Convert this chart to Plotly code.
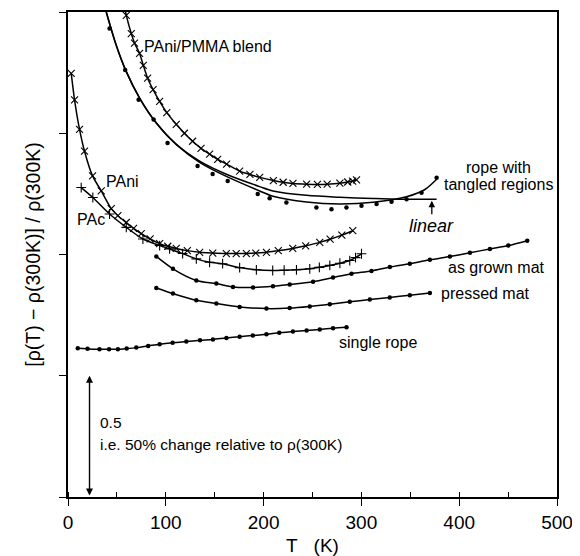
import plotly.graph_objects as go

# temperatures in K, values are the offset normalised resistance

# PAni/PMMA blend (crosses)
blend_T = [57.0, 59.6, 64.7, 68.0, 73.2, 77.0, 81.4, 87.0, 93.7, 101.0, 110.7, 119.0, 127.4,
           136.0, 144.8, 153.0, 162.2, 175.5, 186.0, 196.0, 210.0, 220.0, 230.0, 244.0,
           255.0, 265.0, 278.0, 286.0, 291.0, 295.0]
blend_v = [2.04, 1.986, 1.911, 1.872, 1.829, 1.780, 1.727, 1.680, 1.631, 1.585, 1.537, 1.500, 1.467,
           1.438, 1.414, 1.392, 1.373, 1.344, 1.330, 1.318, 1.305, 1.298, 1.293, 1.290,
           1.289, 1.290, 1.294, 1.299, 1.303, 1.308]

# rope with tangled regions (dots)
tangled_T = [42.5, 58.5, 72.2, 87.5, 101.8, 132.5, 147.9, 163.3, 194.0, 206.2, 223.3, 254.0,
             269.4, 284.7, 300.1, 315.5, 330.8, 346.2, 361.5, 376.9]
tangled_v = [1.932, 1.761, 1.638, 1.557, 1.460, 1.365, 1.332, 1.303, 1.250, 1.232, 1.214, 1.194,
             1.187, 1.194, 1.201, 1.208, 1.218, 1.228, 1.255, 1.317]
# fit through the tangled rope data
tangled_fit_T = [39.1, 49.3, 59.6, 73.2, 90.3, 110.7, 134.6, 161.9, 196.0, 209.6, 243.8, 277.9,
                 312.0, 346.0, 365.0, 377.0]
tangled_fit_v = [2.0, 1.863, 1.754, 1.645, 1.542, 1.454, 1.380, 1.322, 1.262, 1.240, 1.216, 1.208,
                 1.215, 1.238, 1.268, 1.310]
# "linear" fit
linear_T = [39.1, 49.3, 59.6, 73.2, 90.3, 110.7, 134.6, 161.9, 196.0, 209.6, 243.8, 277.9,
            312.0, 339.3, 376.9]
linear_v = [2.0, 1.863, 1.754, 1.645, 1.542, 1.454, 1.385, 1.331, 1.280, 1.262, 1.244, 1.236,
            1.231, 1.228, 1.228]

# PAni (crosses)
pani_T = [3.3, 6.7, 11.8, 16.9, 25.1, 34.0, 44.2, 51.0, 59.6, 67.0, 74.9, 84.0, 93.7, 102.0,
          110.7, 122.0, 134.6, 148.0, 161.9, 172.0, 182.4, 192.0, 202.9, 215.0, 229.8, 243.0,
          257.4, 268.0, 280.0, 291.2]
pani_v = [1.747, 1.638, 1.516, 1.426, 1.324, 1.262, 1.189, 1.160, 1.132, 1.108, 1.086, 1.064,
          1.045, 1.034, 1.025, 1.016, 1.009, 1.006, 1.004, 1.004, 1.004, 1.006, 1.009, 1.016,
          1.025, 1.036, 1.050, 1.063, 1.080, 1.098]

# PAc (plus signs)
pac_T = [13.5, 25.4, 42.5, 59.6, 76.6, 93.7, 103.9, 117.2, 131.2, 144.8, 158.1, 175.5, 192.6,
         209.3, 221.0, 233.6, 247.2, 257.0, 267.7, 278.0, 288.1, 294.0, 300.1]
pac_v = [1.276, 1.235, 1.167, 1.112, 1.064, 1.037, 1.023, 1.004, 0.982, 0.968, 0.962, 0.946, 0.937,
         0.934, 0.935, 0.937, 0.941, 0.947, 0.955, 0.964, 0.975, 0.987, 1.003]

# as grown mat (dots)
grown_T = [90.3, 107.3, 131.2, 151.7, 168.7, 189.2, 209.6, 226.7, 250.6, 271.0, 289.9, 310.3,
           329.1, 349.5, 370.0, 390.5, 411.0, 431.4, 450.2, 469.6]
grown_v = [0.992, 0.941, 0.893, 0.880, 0.866, 0.864, 0.869, 0.876, 0.888, 0.905, 0.921, 0.932,
           0.948, 0.962, 0.978, 0.992, 1.007, 1.023, 1.037, 1.057]

# pressed mat (dots)
pressed_T = [90.3, 107.3, 131.2, 151.7, 175.5, 202.9, 226.7, 247.2, 267.7, 288.1, 308.6, 329.0,
             349.5, 370.0]
pressed_v = [0.862, 0.839, 0.811, 0.798, 0.784, 0.777, 0.779, 0.786, 0.795, 0.805, 0.814, 0.823,
             0.832, 0.841]

# single rope (dots)
single_T = [10.0, 20.0, 32.2, 42.0, 51.0, 60.0, 69.8, 82.0, 93.7, 107.0, 121.0, 135.0, 148.2,
            162.0, 175.5, 189.0, 202.9, 216.0, 230.0, 244.0, 257.4, 271.0, 284.8]
single_v = [0.613, 0.611, 0.609, 0.609, 0.609, 0.612, 0.616, 0.623, 0.630, 0.636, 0.641, 0.646,
            0.650, 0.656, 0.661, 0.666, 0.671, 0.677, 0.682, 0.687, 0.691, 0.696, 0.700]

FONT = "Liberation Sans, Arial, sans-serif"

fig = go.Figure()


def add_curve(T, v, symbol=None, size=4):
    if symbol is None:
        fig.add_trace(go.Scatter(x=T, y=v, mode="lines",
                                 line=dict(color="black", width=1.5, shape="spline", smoothing=0.8)))
        return
    lw = 0 if symbol == "circle" else 1.1
    fig.add_trace(go.Scatter(x=T, y=v, mode="lines+markers",
                             line=dict(color="black", width=1.5, shape="spline", smoothing=0.8),
                             marker=dict(symbol=symbol, size=size, color="black",
                                         line=dict(color="black", width=lw))))


add_curve(blend_T, blend_v, "x-thin", 7)
add_curve(tangled_fit_T, tangled_fit_v)
add_curve(linear_T, linear_v)
fig.add_trace(go.Scatter(x=tangled_T, y=tangled_v, mode="markers",
                         marker=dict(symbol="circle", size=4.5, color="black")))
add_curve(pani_T, pani_v, "x-thin", 7)
add_curve(pac_T, pac_v, "cross-thin", 7)
add_curve(grown_T, grown_v, "circle", 4.5)
add_curve(pressed_T, pressed_v, "circle", 4.5)
add_curve(single_T, single_v, "circle", 4.5)

labels = [
    (76, 1.857, "PAni/PMMA blend", "left"),
    (37, 1.299, "PAni", "left"),
    (7.5, 1.143, "PAc", "left"),
    (440.6, 1.358, "rope with", "center"),
    (440.6, 1.290, "tangled regions", "center"),
    (387, 0.947, "as grown mat", "left"),
    (379, 0.840, "pressed mat", "left"),
    (275, 0.639, "single rope", "left"),
]
for x, y, txt, anc in labels:
    fig.add_annotation(x=x, y=y, text=txt, showarrow=False, xanchor=anc,
                       font=dict(family=FONT, size=16, color="black"))

fig.add_annotation(x=372, y=1.226, ax=0, ay=26, text="<i>linear</i>", showarrow=True,
                   arrowhead=2, arrowsize=1, arrowwidth=1.3, arrowcolor="black", standoff=1,
                   font=dict(family=FONT, size=18, color="black"))

# 0.5 scale bar
fig.add_annotation(x=22, y=0.5, ax=22, ay=0.0, axref="x", ayref="y", text="", showarrow=True,
                   arrowhead=2, arrowside="end+start", arrowsize=1, arrowwidth=1.4,
                   arrowcolor="black")
fig.add_annotation(x=31, y=0.307, text="0.5", showarrow=False, xanchor="left",
                   font=dict(family=FONT, size=15.5, color="black"))
fig.add_annotation(x=31, y=0.217, text="i.e. 50% change relative to \u03c1(300K)", showarrow=False,
                   xanchor="left", font=dict(family=FONT, size=15.5, color="black"))

fig.update_xaxes(range=[0, 500], dtick=100, ticks="outside", ticklen=7, tickwidth=1.4,
                 tickcolor="black", showline=True, linewidth=1.6, linecolor="black", mirror=True,
                 showgrid=False, zeroline=False,
                 minor=dict(dtick=50, ticks="inside", ticklen=5, tickwidth=1.2, tickcolor="black"),
                 tickfont=dict(family=FONT, size=19, color="black"),
                 title=dict(text="T\u00a0\u00a0\u00a0(K)", font=dict(family=FONT, size=19, color="black"),
                            standoff=8))
fig.update_yaxes(range=[0, 2], dtick=0.5, ticks="outside", ticklen=7, tickwidth=1.4,
                 tickcolor="black", showline=True, linewidth=1.6, linecolor="black", mirror=True,
                 showgrid=False, zeroline=False, showticklabels=False,
                 title=dict(text="[\u03c1(T) \u2212 \u03c1(300K)] / \u03c1(300K)",
                            font=dict(family=FONT, size=19.5, color="black"), standoff=13))

# the page adds an 8px body margin, so the figure is 8px smaller and the margins shifted
fig.update_layout(width=572, height=548, showlegend=False,
                  margin=dict(l=60, r=23, t=2, b=58),
                  plot_bgcolor="white", paper_bgcolor="white")

fig.write_html("out.html")
